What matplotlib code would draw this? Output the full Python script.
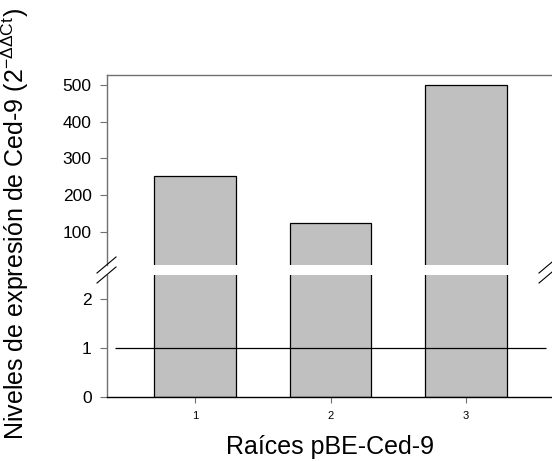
import matplotlib
matplotlib.use("Agg")
import matplotlib.pyplot as plt
from matplotlib.lines import Line2D

plt.rcParams['font.family'] = ['Liberation Sans', 'DejaVu Sans']
plt.rcParams['mathtext.fontset'] = 'custom'
plt.rcParams['mathtext.rm'] = 'Liberation Sans'
plt.rcParams['mathtext.default'] = 'regular'

# data
muestras = [1, 2, 3]
expresion = [252, 123, 500]
referencia = 1
ticks_arriba = [100, 200, 300, 400, 500]
ticks_abajo = [0, 1, 2]

W, H = 552, 461
fig = plt.figure(figsize=(W / 100, H / 100), dpi=100)

left = 107 / W
width = (554 - 107) / W
ax_top = fig.add_axes([left, 1 - 265 / H, width, (265 - 75) / H])
ax_bot = fig.add_axes([left, 1 - 397 / H, width, (397 - 275) / H])

gris = '#c0c0c0'
marco = '#707070'

for ax in (ax_top, ax_bot):
    ax.bar(muestras, expresion, width=0.6, color=gris, edgecolor='black', linewidth=0.9, zorder=2)
    ax.hlines(referencia, 0.41, 3.59, color='black', linewidth=0.9, zorder=3)
    ax.set_xlim(0.35, 3.65)
    ax.spines['right'].set_visible(False)
    for s in ax.spines.values():
        s.set_color(marco)
        s.set_linewidth(1.0)
    ax.tick_params(axis='y', direction='out', length=5, width=0.8, color=marco,
                   labelsize=12.5, pad=6)

ax_top.set_ylim(10, 527)
ax_top.set_yticks(ticks_arriba)
ax_top.spines['bottom'].set_visible(False)
ax_top.set_xticks([])

ax_bot.set_ylim(0, 2.49)
ax_bot.set_yticks(ticks_abajo)
ax_bot.spines['top'].set_visible(False)
ax_bot.set_xticks(muestras)
ax_bot.tick_params(axis='x', direction='out', length=4, width=0.8, color=marco,
                   labelsize=8, pad=6)
ax_bot.spines['bottom'].set_color('black')

# break marks
for x0 in (107, 549):
    for dy in (0, 10):
        y1 = 273 + dy
        y2 = 257 + dy
        fig.add_artist(Line2D([(x0 - 10) / W, (x0 + 9) / W], [1 - y1 / H, 1 - y2 / H],
                              color='black', linewidth=0.8))

fig.text(15 / W, 1 - 224 / H, r'Niveles de expresión de Ced-9 (2$^{-\Delta\Delta Ct}$)',
         rotation=90, ha='center', va='center', fontsize=18)
fig.text(330 / W, 1 - 447 / H, 'Raíces pBE-Ced-9', ha='center', va='center', fontsize=18)

fig.savefig('out.png', dpi=100)
